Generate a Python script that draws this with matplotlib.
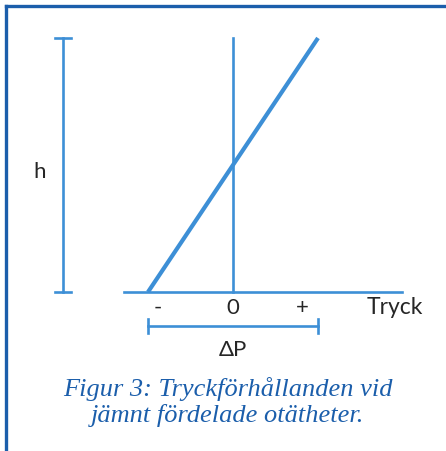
import numpy as np
import matplotlib
matplotlib.use("Agg")
import matplotlib.pyplot as plt

# schematic values: pressure (x) and height (y)
pressure_line = [-1.0, 1.0]
height_line = [0.0, 1.0]
axis_range = [-1.28, 1.99]
zero_line = [0.0, 1.0]
h_bar_x = -2.0
h_range = [0.0, 1.0]
dp_range = [-1.0, 1.0]
tick_pos = [-0.88, 0.0, 0.82]
tick_labels = ["-", "0", "+"]
caption = "Figur 3: Tryckförhållanden vid\njämnt fördelade otätheter."

line_col = "#3d8fd6"
frame_col = "#1b5eab"
text_col = "#262626"
sans = "Lato"

fig = plt.figure(figsize=(4.46, 4.52), dpi=100)
ax = fig.add_axes([0, 0, 1, 1])
ax.set_xlim((0 - 233) / 85, (446 - 233) / 85)
ax.set_ylim((293 - 452) / 254, (293 - 0) / 254)
ax.axis("off")

# pressure line, zero line and axis
ax.plot(pressure_line, height_line, color=line_col, lw=3.0, solid_capstyle="butt")
ax.plot([0, 0], zero_line, color=line_col, lw=1.9)
ax.plot(axis_range, [0, 0], color=line_col, lw=1.9)

# h bar with caps
ax.plot([h_bar_x, h_bar_x], h_range, color=line_col, lw=1.9)
for hv in h_range:
    ax.plot([h_bar_x - 0.09, h_bar_x + 0.09], [hv, hv], color=line_col, lw=1.9)
ax.text(-2.27, 0.476, "h", color=text_col, fontsize=16, family=sans,
        ha="center", va="center")

# ticks and axis label
for p, lab in zip(tick_pos, tick_labels):
    ax.text(p, -0.058, lab, color=text_col, fontsize=16, family=sans,
            ha="center", va="center")
ax.text(1.9, -0.058, "Tryck", color=text_col, fontsize=16.5, family=sans,
        ha="center", va="center")

# delta P bar
ax.plot(dp_range, [-0.134, -0.134], color=line_col, lw=1.9)
for p in dp_range:
    ax.plot([p, p], [-0.105, -0.163], color=line_col, lw=1.9)
ax.text(0, -0.224, "ΔP", color=text_col, fontsize=16, family=sans,
        ha="center", va="center")

# caption
fig.text(228 / 446, 1 - 402 / 452, caption, color=frame_col, fontsize=19,
         family="Liberation Serif", style="italic", ha="center", va="center",
         linespacing=1.2)

# frame (left and top edges)
fig.add_artist(plt.Line2D([6 / 446, 6 / 446], [0, 1 - 7 / 452], color=frame_col, lw=2.4))
fig.add_artist(plt.Line2D([6 / 446, 1], [1 - 7 / 452, 1 - 7 / 452], color=frame_col, lw=2.4))

fig.savefig("out.png", dpi=100)
